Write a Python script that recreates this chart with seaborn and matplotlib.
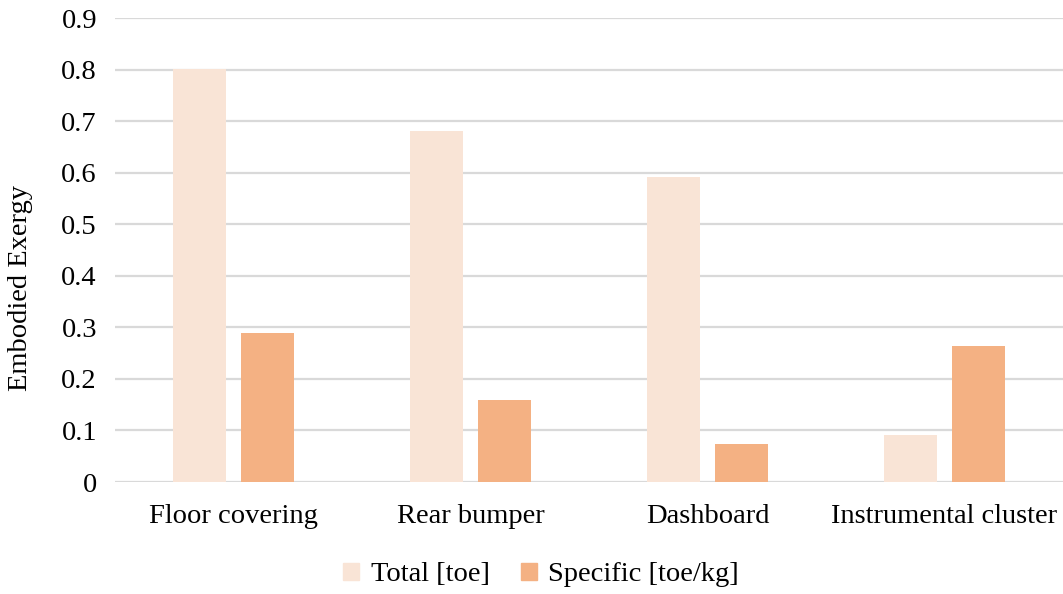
import pandas as pd
import matplotlib.pyplot as plt
import seaborn as sns

# ── data ─────────────────────────────────────────────────────────────────────
categories = ['Floor covering', 'Rear bumper', 'Dashboard', 'Instrumental cluster']
total_toe = [0.801, 0.681, 0.591, 0.091]
specific_toe_kg = [0.289, 0.159, 0.073, 0.264]
series = ['Total [toe]', 'Specific [toe/kg]']
colors = ['#F9E4D6', '#F4B183']

df = pd.DataFrame({
    'component': categories * 2,
    'value': total_toe + specific_toe_kg,
    'series': [series[0]] * 4 + [series[1]] * 4,
})

# ── plot ─────────────────────────────────────────────────────────────────────
sns.set_style('white')
plt.rcParams['font.family'] = ['Liberation Serif', 'DejaVu Serif']
plt.rcParams['text.color'] = 'black'
plt.rcParams['axes.labelcolor'] = 'black'
FS = 20.5

fig = plt.figure(figsize=(10.63, 5.94), dpi=100)
ax = fig.add_axes([115 / 1063, 112 / 594, 948 / 1063, 464 / 594])

sns.barplot(data=df, x='component', y='value', hue='series',
            palette=colors, width=0.572, gap=0.22, ax=ax,
            saturation=1, legend=False, linewidth=0)

ax.set_ylim(0, 0.9)
ax.set_xlim(-0.5, 3.5)
ax.set_yticks([i / 10 for i in range(10)])
ax.set_yticklabels(['0'] + [f'{i / 10:.1f}' for i in range(1, 10)])
ax.yaxis.grid(True, color='#D9D9D9', linewidth=1.6)
ax.set_axisbelow(True)
for s in ax.spines.values():
    s.set_visible(False)
ax.tick_params(axis='both', length=0, labelsize=FS, colors='black')
ax.tick_params(axis='y', pad=13)
ax.tick_params(axis='x', pad=16)
ax.set_xlabel('')
ax.set_ylabel('Embodied Exergy', fontsize=FS, color='black')
ax.yaxis.set_label_coords(-0.087, 0.418)

handles = [plt.Rectangle((0, 0), 1, 1, color=c) for c in colors]
fig.legend(handles, series, loc='center', bbox_to_anchor=(0.509, 0.032),
           ncol=2, frameon=False, fontsize=FS, handlelength=0.55,
           handleheight=0.55, handletextpad=0.4, columnspacing=1.1,
           labelcolor='black')

plt.savefig('out.png', dpi=100)
